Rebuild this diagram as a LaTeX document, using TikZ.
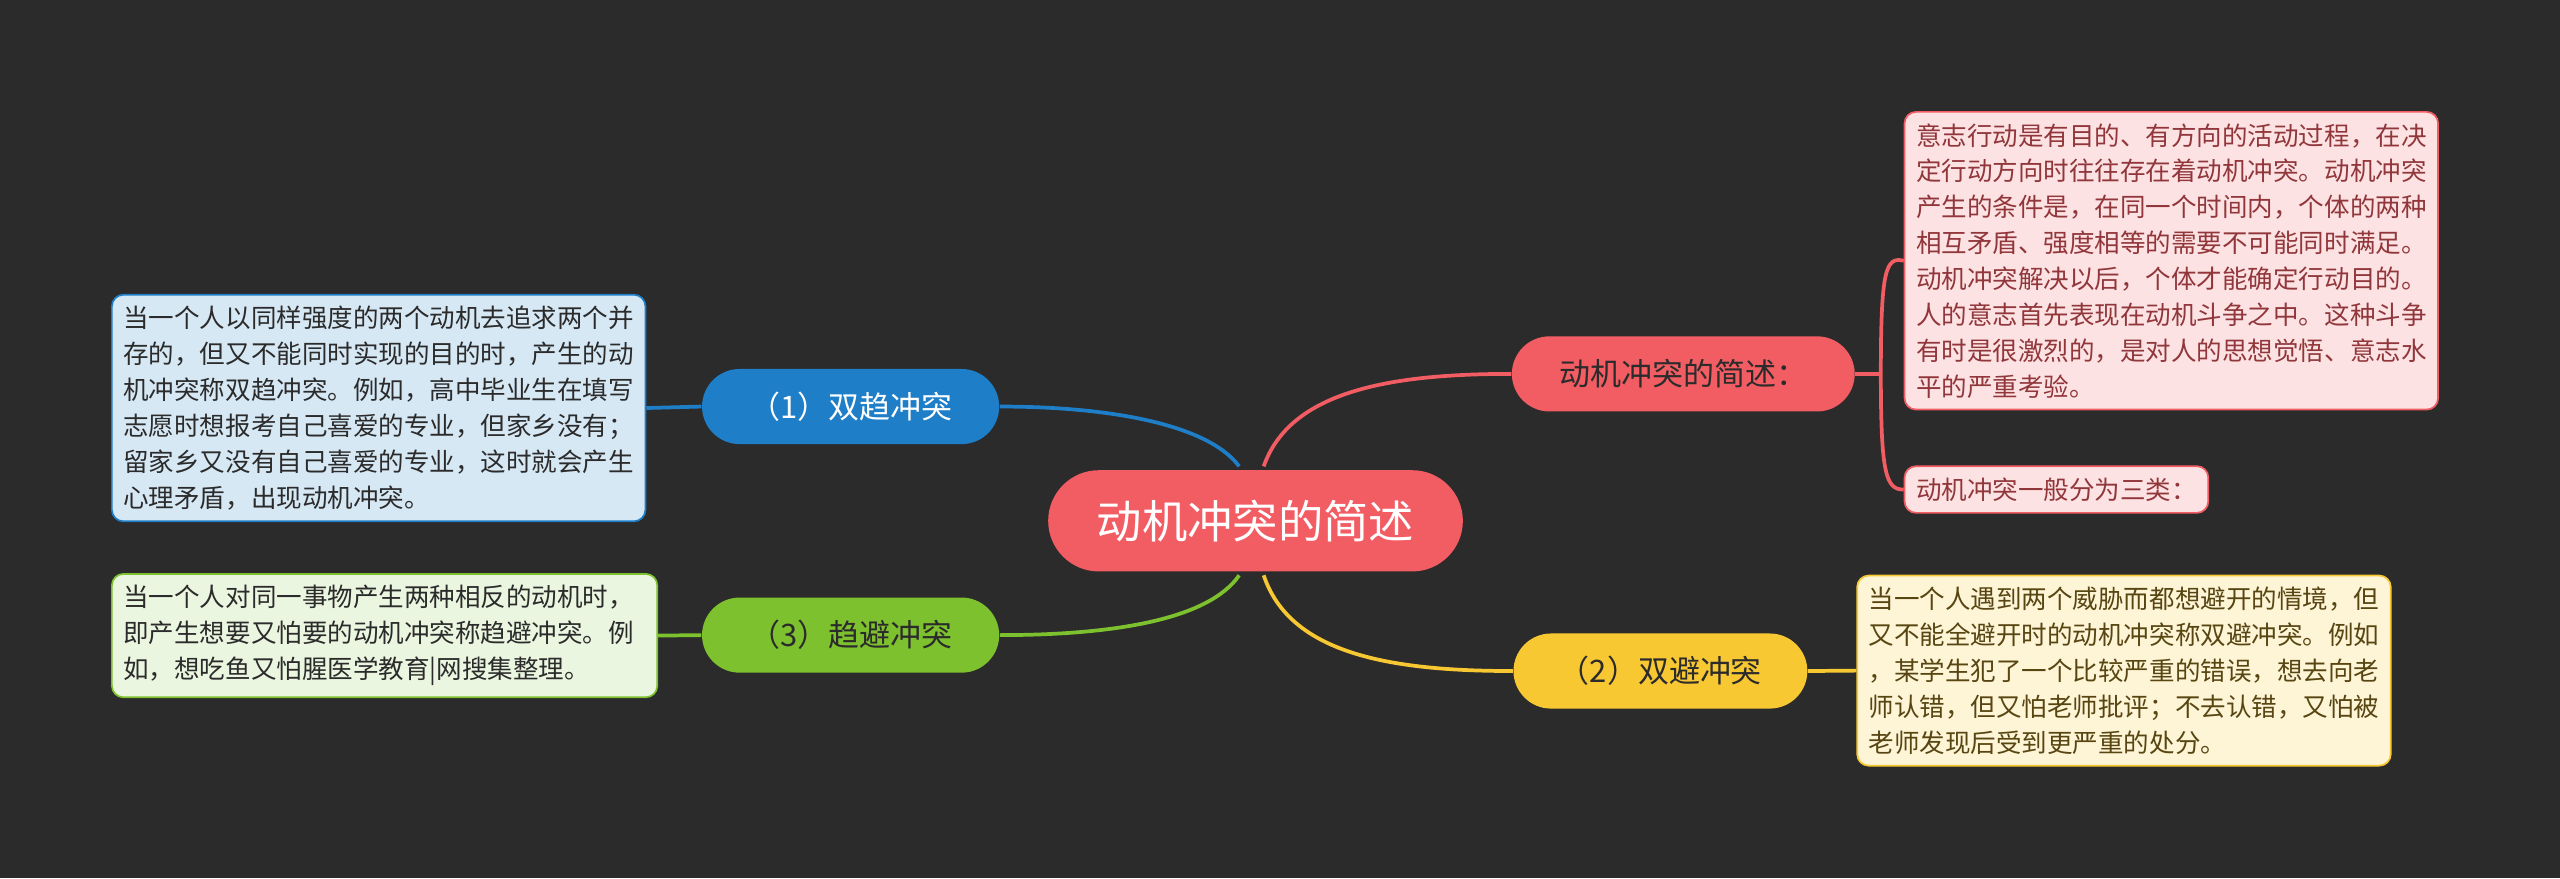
\documentclass[tikz,border=0pt]{standalone}
\usepackage{fontspec}
\setmainfont{Noto Sans CJK SC}
\begin{document}
\begin{tikzpicture}[x=0.02cm,y=-0.02cm,
  branch/.style={rounded corners=23*0.02cm,minimum height=46*0.02cm,font=\fontsize{10.8}{13}\selectfont,inner xsep=0pt},
  tbox/.style={draw,rounded corners=4pt,line width=0.6pt,anchor=north west,align=left,inner sep=4pt,font=\fontsize{8.9}{12.5}\selectfont},
  link/.style={line width=1.3pt}]
\definecolor{bg}{HTML}{2B2B2B}
\definecolor{cred}{HTML}{F25C63}
\definecolor{cblue}{HTML}{1E7EC8}
\definecolor{cyel}{HTML}{F8C832}
\definecolor{cgreen}{HTML}{7DC12E}
\fill[bg] (0,0) rectangle (1568,538);
\useasboundingbox (0,0) rectangle (1568,538);
% center
\node[fill=cred,rounded corners=31*0.02cm,minimum width=254*0.02cm,minimum height=62*0.02cm,text=white,font=\fontsize{15.8}{18}\selectfont] (c) at (769,319) {动机冲突的简述};
% branches
\node[branch,fill=cred,minimum width=210*0.02cm,text=bg] (r1) at (1031,229) {动机冲突的简述：};
\node[branch,fill=cyel,minimum width=180*0.02cm,text=bg] (r2) at (1017,411) {（2）双避冲突};
\node[branch,fill=cblue,minimum width=182*0.02cm,text=white] (l1) at (521,249) {（1）双趋冲突};
\node[branch,fill=cgreen,minimum width=182*0.02cm,text=bg] (l3) at (521,389) {（3）趋避冲突};
% text boxes
\node[tbox,draw=cred,fill=cred!18!white,text=cred!60!black] (t1) at (1166,68) {意志行动是有目的、有方向的活动过程，在决\\定行动方向时往往存在着动机冲突。动机冲突\\产生的条件是，在同一个时间内，个体的两种\\相互矛盾、强度相等的需要不可能同时满足。\\动机冲突解决以后，个体才能确定行动目的。\\人的意志首先表现在动机斗争之中。这种斗争\\有时是很激烈的，是对人的思想觉悟、意志水\\平的严重考验。};
\node[tbox,draw=cred,fill=cred!18!white,text=cred!60!black] (t2) at (1166,285) {动机冲突一般分为三类：};
\node[tbox,draw=cyel,fill=cyel!20!white,text=cyel!35!black] (t3) at (1137,352) {当一个人遇到两个威胁而都想避开的情境，但\\又不能全避开时的动机冲突称双避冲突。例如\\，某学生犯了一个比较严重的错误，想去向老\\师认错，但又怕老师批评；不去认错，又怕被\\老师发现后受到更严重的处分。};
\node[tbox,draw=cblue,fill=cblue!18!white,text=bg] (t4) at (68,180) {当一个人以同样强度的两个动机去追求两个并\\存的，但又不能同时实现的目的时，产生的动\\机冲突称双趋冲突。例如，高中毕业生在填写\\志愿时想报考自己喜爱的专业，但家乡没有；\\留家乡又没有自己喜爱的专业，这时就会产生\\心理矛盾，出现动机冲突。};
\node[tbox,draw=cgreen,fill=cgreen!15!white,text=bg,text width=320*0.02cm] (t5) at (68,351) {当一个人对同一事物产生两种相反的动机时，\\即产生想要又怕要的动机冲突称趋避冲突。例\\如，想吃鱼又怕腥医学教育|网搜集整理。};
% links center-branches
\draw[link,cred] (c.north) ++(5,-2) coordinate (a1) .. controls (790,240) and (850,229) .. (r1.west);
\draw[link,cyel] (c.south) ++(5,2) coordinate (a2) .. controls (790,400) and (850,411) .. (r2.west);
\draw[link,cblue] (c.north) ++(-10,-2) coordinate (a3) .. controls (740,260) and (680,249) .. (l1.east);
\draw[link,cgreen] (c.south) ++(-10,2) coordinate (a4) .. controls (740,380) and (680,389) .. (l3.east);
% branch to boxes
\coordinate (k1) at (1152,229);
\draw[link,cred] (r1.east) -- (k1);
\draw[link,cred] (k1) .. controls (1152,165) and (1155,157) .. (t1.west);
\draw[link,cred] (k1) .. controls (1152,290) and (1155,300) .. (t2.west);
\draw[link,cyel] (r2.east) -- (t3.west);
\draw[link,cblue] (l1.west) -- (t4.east);
\draw[link,cgreen] (l3.west) -- (t5.east);
\end{tikzpicture}
\end{document}
